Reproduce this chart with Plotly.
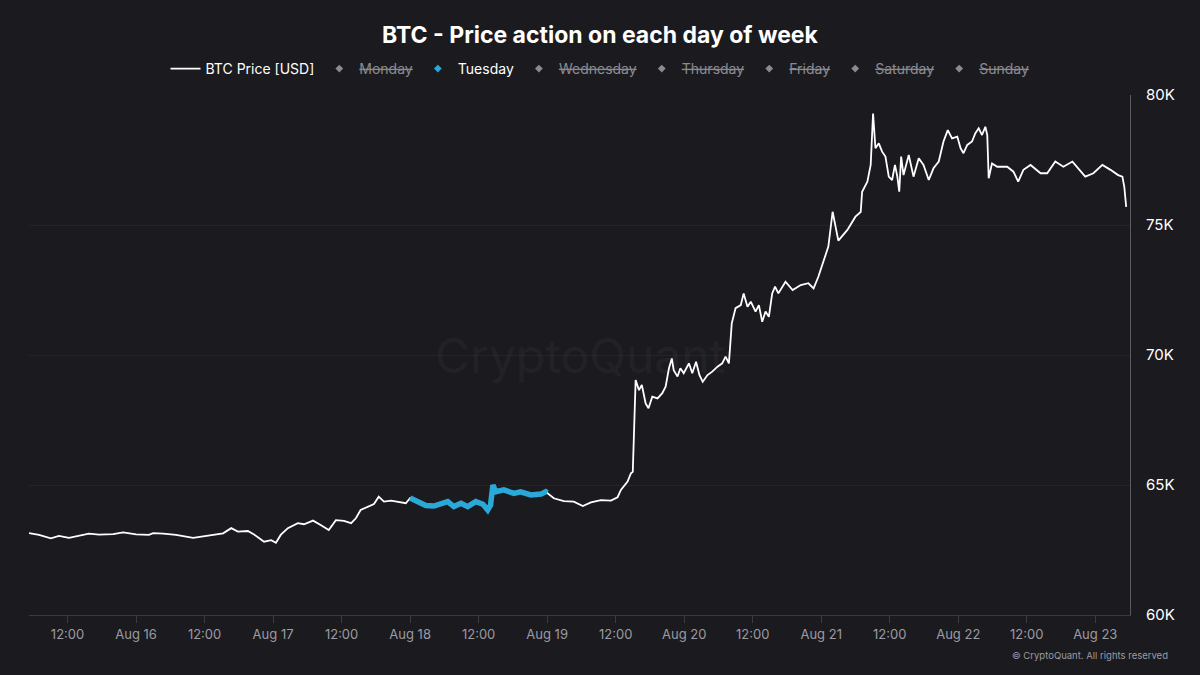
import pandas as pd
import plotly.graph_objects as go

# BTC price, one line per day (time, USD)
times = [
    "2026-08-15 05:15", "2026-08-15 07:00", "2026-08-15 09:05", "2026-08-15 10:30", "2026-08-15 12:15",
    "2026-08-15 14:00", "2026-08-15 15:45", "2026-08-15 17:30", "2026-08-15 20:00", "2026-08-15 21:45",

    "2026-08-16 00:00", "2026-08-16 02:15", "2026-08-16 03:00", "2026-08-16 04:45", "2026-08-16 07:00",
    "2026-08-16 10:00", "2026-08-16 11:45", "2026-08-16 14:00", "2026-08-16 15:15", "2026-08-16 16:40",
    "2026-08-16 17:50", "2026-08-16 19:35", "2026-08-16 20:40", "2026-08-16 22:25", "2026-08-16 23:40",

    "2026-08-17 00:30", "2026-08-17 01:20", "2026-08-17 02:35", "2026-08-17 04:20", "2026-08-17 05:25",
    "2026-08-17 07:00", "2026-08-17 08:20", "2026-08-17 09:45", "2026-08-17 11:00", "2026-08-17 12:25",
    "2026-08-17 13:40", "2026-08-17 14:30", "2026-08-17 15:20", "2026-08-17 16:35", "2026-08-17 17:40",
    "2026-08-17 18:30", "2026-08-17 19:25", "2026-08-17 20:40", "2026-08-17 21:50", "2026-08-17 23:15",

    "2026-08-18 00:00", "2026-08-18 01:20", "2026-08-18 02:45", "2026-08-18 04:10", "2026-08-18 05:20",
    "2026-08-18 06:35", "2026-08-18 07:40", "2026-08-18 08:55", "2026-08-18 10:05", "2026-08-18 11:30",
    "2026-08-18 12:45", "2026-08-18 13:35", "2026-08-18 14:05", "2026-08-18 14:30", "2026-08-18 15:00",
    "2026-08-18 16:25", "2026-08-18 18:10", "2026-08-18 19:20", "2026-08-18 21:10", "2026-08-18 22:55",
    "2026-08-18 23:45",

    "2026-08-19 00:00", "2026-08-19 01:10", "2026-08-19 02:55", "2026-08-19 04:40", "2026-08-19 06:15",
    "2026-08-19 07:40", "2026-08-19 09:25", "2026-08-19 11:10", "2026-08-19 12:20", "2026-08-19 12:55",
    "2026-08-19 14:05", "2026-08-19 14:40", "2026-08-19 15:00", "2026-08-19 15:10", "2026-08-19 15:30",
    "2026-08-19 16:05", "2026-08-19 16:35", "2026-08-19 17:15", "2026-08-19 17:45", "2026-08-19 18:25",
    "2026-08-19 19:20", "2026-08-19 20:10", "2026-08-19 20:45", "2026-08-19 21:20", "2026-08-19 21:50",
    "2026-08-19 22:10", "2026-08-19 22:50", "2026-08-19 23:20", "2026-08-19 23:55",

    "2026-08-20 00:50", "2026-08-20 01:25", "2026-08-20 02:05", "2026-08-20 02:40", "2026-08-20 03:15",
    "2026-08-20 04:05", "2026-08-20 04:55", "2026-08-20 05:50", "2026-08-20 06:40", "2026-08-20 07:15",
    "2026-08-20 07:50", "2026-08-20 08:20", "2026-08-20 09:00", "2026-08-20 09:55", "2026-08-20 10:25",
    "2026-08-20 11:05", "2026-08-20 11:40", "2026-08-20 12:30", "2026-08-20 13:05", "2026-08-20 13:40",
    "2026-08-20 14:15", "2026-08-20 14:50", "2026-08-20 15:25", "2026-08-20 15:55", "2026-08-20 16:30",
    "2026-08-20 17:45", "2026-08-20 19:00", "2026-08-20 20:25", "2026-08-20 21:45", "2026-08-20 22:40",
    "2026-08-20 23:30",

    "2026-08-21 00:25", "2026-08-21 01:15", "2026-08-21 02:00", "2026-08-21 03:00", "2026-08-21 04:35",
    "2026-08-21 06:00", "2026-08-21 06:55", "2026-08-21 07:10", "2026-08-21 08:05", "2026-08-21 08:40",
    "2026-08-21 09:05", "2026-08-21 09:30", "2026-08-21 10:05", "2026-08-21 10:40", "2026-08-21 11:15",
    "2026-08-21 11:50", "2026-08-21 12:25", "2026-08-21 12:55", "2026-08-21 13:20", "2026-08-21 13:40",
    "2026-08-21 14:00", "2026-08-21 14:25", "2026-08-21 15:20", "2026-08-21 16:10", "2026-08-21 17:05",
    "2026-08-21 17:55", "2026-08-21 18:50", "2026-08-21 19:40", "2026-08-21 20:35", "2026-08-21 21:25",
    "2026-08-21 22:10", "2026-08-21 22:55", "2026-08-21 23:50",

    "2026-08-22 00:25", "2026-08-22 00:55", "2026-08-22 01:35", "2026-08-22 02:25", "2026-08-22 03:00",
    "2026-08-22 03:35", "2026-08-22 04:10", "2026-08-22 04:45", "2026-08-22 05:05", "2026-08-22 05:20",
    "2026-08-22 05:55", "2026-08-22 06:50", "2026-08-22 08:35", "2026-08-22 09:40", "2026-08-22 10:30",
    "2026-08-22 11:25", "2026-08-22 12:40", "2026-08-22 14:25", "2026-08-22 15:35", "2026-08-22 17:00",
    "2026-08-22 18:25", "2026-08-22 20:00", "2026-08-22 21:00", "2026-08-22 22:15", "2026-08-22 23:40",

    "2026-08-23 01:15", "2026-08-23 02:40", "2026-08-23 04:00", "2026-08-23 04:45", "2026-08-23 05:05",
    "2026-08-23 05:25",
]
prices = [
    63150, 63080, 62950, 63040, 62970,
    63050, 63130, 63090, 63110, 63180,

    63100, 63080, 63150, 63130, 63080,
    62970, 63020, 63080, 63140, 63340,
    63210, 63230, 63100, 62820, 62880,

    62780, 63080, 63340, 63530, 63490,
    63630, 63460, 63270, 63650, 63620,
    63530, 63720, 64040, 64170, 64270,
    64550, 64360, 64400, 64360, 64300,

    64500, 64360, 64210, 64190, 64260,
    64360, 64170, 64300, 64170, 64360,
    64260, 64040, 64230, 65000, 64740,
    64810, 64680, 64740, 64620, 64650,
    64740,

    64700, 64490, 64380, 64360, 64190,
    64330, 64420, 64400, 64530, 64810,
    65130, 65450, 65510, 66480, 69040,
    68650, 68850, 68140, 67950, 68400,
    68330, 68530, 68780, 69490, 69870,
    69420, 69170, 69490, 69300,

    69680, 69300, 69740, 69230, 68970,
    69230, 69360, 69550, 69680, 69940,
    69680, 71220, 71800, 71920, 72370,
    71860, 72050, 71670, 71920, 71280,
    71670, 71470, 72370, 72630, 72370,
    72820, 72500, 72690, 72760, 72560,
    73010,

    73650, 74170, 75510, 74400, 74810,
    75320, 75500, 76280, 76670, 77310,
    79290, 77950, 78140, 77820, 77630,
    76860, 76730, 77310, 76860, 76280,
    77630, 76920, 77690, 76860, 77570,
    77310, 76730, 77180, 77440, 78210,
    78650, 78330, 78400,

    77950, 77760, 78080, 78210, 78530,
    78720, 78460, 78780, 78460, 76800,
    77370, 77240, 77240, 77050, 76670,
    77120, 77310, 76990, 76990, 77440,
    77240, 77440, 77180, 76860, 76990,

    77310, 77120, 76920, 76860, 76470,
    75700,
]

days = ["Monday", "Tuesday", "Wednesday", "Thursday", "Friday", "Saturday", "Sunday"]
shown_day = "Tuesday"
shown_start, shown_end = "2026-08-18 00:00", "2026-08-19 00:00"

x_tick_vals = [
    "2026-08-15 12:00", "2026-08-16 00:00", "2026-08-16 12:00", "2026-08-17 00:00",
    "2026-08-17 12:00", "2026-08-18 00:00", "2026-08-18 12:00", "2026-08-19 00:00",
    "2026-08-19 12:00", "2026-08-20 00:00", "2026-08-20 12:00", "2026-08-21 00:00",
    "2026-08-21 12:00", "2026-08-22 00:00", "2026-08-22 12:00", "2026-08-23 00:00",
]
x_tick_text = [
    "12:00", "Aug 16", "12:00", "Aug 17", "12:00", "Aug 18", "12:00", "Aug 19",
    "12:00", "Aug 20", "12:00", "Aug 21", "12:00", "Aug 22", "12:00", "Aug 23",
]
y_tick_vals = [60000, 65000, 70000, 75000, 80000]
y_tick_text = ["60K", "65K", "70K", "75K", "80K"]

BG = "#1b1a1f"
CYAN = "#2aa8d8"
GREY = "#8a8a90"

assert len(times) == len(prices)
df = pd.DataFrame({"time": pd.to_datetime(times), "price": prices})
tue = df[(df["time"] >= shown_start) & (df["time"] <= shown_end)]

fig = go.Figure()
fig.add_trace(go.Scatter(x=df["time"], y=df["price"], mode="lines",
                         line=dict(color="white", width=1.8), name="BTC Price [USD]"))

# day-of-week legend entries, only Tuesday is switched on
for d in days:
    if d == shown_day:
        name, color = d, CYAN
    else:
        name, color = f"<span style='color:{GREY}'><s>{d}</s></span>", GREY
    fig.add_trace(go.Scatter(x=[None], y=[None], mode="markers", name=name,
                             marker=dict(symbol="diamond", size=6, color=color)))

fig.add_trace(go.Scatter(x=tue["time"], y=tue["price"], mode="lines",
                         line=dict(color=CYAN, width=5.5), showlegend=False))

fig.update_layout(
    width=1200, height=675,
    paper_bgcolor=BG, plot_bgcolor=BG,
    font=dict(family="Inter", color="white"),
    margin=dict(l=29, r=70, t=95, b=60, autoexpand=False),
    title=dict(text="<b>BTC - Price action on each day of week</b>", x=0.5, xanchor="center",
               xref="container", y=1 - 35 / 675, yref="container", yanchor="middle",
               font=dict(size=23, color="white")),
    legend=dict(orientation="h", x=0.5, xanchor="center", xref="container",
                y=1 - 53 / 675, yref="container", yanchor="top",
                font=dict(size=14, color="white"), bgcolor="rgba(0,0,0,0)",
                itemwidth=30),
    showlegend=True,
)

fig.update_xaxes(
    range=["2026-08-15 05:15", "2026-08-23 06:05"],
    tickvals=x_tick_vals, ticktext=x_tick_text,
    showgrid=False, showline=True, linecolor="#3b3a40", linewidth=1,
    ticks="outside", ticklen=7, tickcolor="#3b3a40",
    tickfont=dict(size=13, color="#9b9ba1"), zeroline=False,
)
fig.update_yaxes(
    range=[60000, 80000], side="right",
    tickvals=y_tick_vals, ticktext=y_tick_text,
    showgrid=True, gridcolor="#25242a", gridwidth=1,
    showline=True, linecolor="#5a5a60", linewidth=1,
    tickfont=dict(size=15, color="white"), ticklabelstandoff=12, zeroline=False,
)

# watermark and footer
fig.add_annotation(text="CryptoQuant", x=0.5, y=0.5, xref="paper", yref="paper",
                   showarrow=False, font=dict(size=48, color="rgba(255,255,255,0.05)"))
fig.add_annotation(text="© CryptoQuant. All rights reserved",
                   x=(1170 - 29) / 1101, y=(615 - 655) / 520,
                   xref="paper", yref="paper", xanchor="right", yanchor="middle",
                   showarrow=False, font=dict(size=9.5, color="#9b9ba1"))

fig.write_html("out.html", config={"displayModeBar": False},
               post_script=f"document.body.style.margin='0';document.body.style.background='{BG}';")
